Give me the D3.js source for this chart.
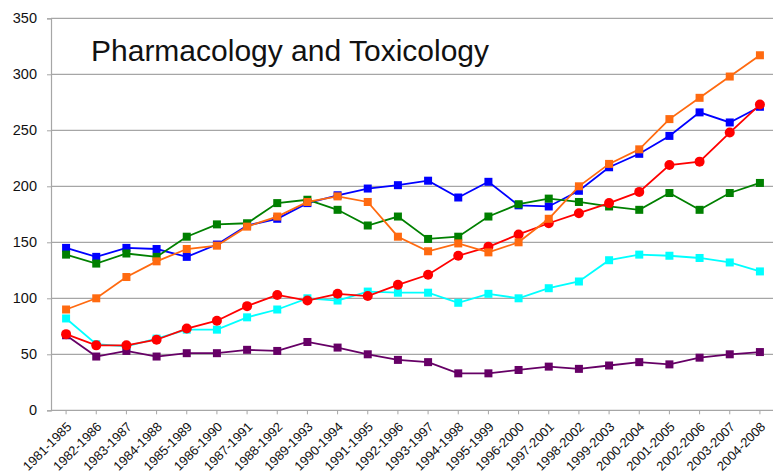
<!DOCTYPE html>
<html>
<head>
<meta charset="utf-8">
<script src="https://cdn.jsdelivr.net/npm/d3@7"></script>
<style>
  body { margin: 0; background: #fff; }
  svg { display: block; }
  text { font-family: 'Liberation Sans', Arial, sans-serif; fill: #111; }
</style>
</head>
<body>
<svg id="chart" width="774" height="475"></svg>
<script>
let periods = ['1981-1985', '1982-1986', '1983-1987', '1984-1988', '1985-1989', '1986-1990',
  '1987-1991', '1988-1992', '1989-1993', '1990-1994', '1991-1995', '1992-1996',
  '1993-1997', '1994-1998', '1995-1999', '1996-2000', '1997-2001', '1998-2002',
  '1999-2003', '2000-2004', '2001-2005', '2002-2006', '2003-2007', '2004-2008'];

let yTicks = [0, 50, 100, 150, 200, 250, 300, 350];

let blueVals   = [145, 137, 145, 144, 137, 148, 165, 171, 185, 192, 198, 201, 205, 190, 204, 183, 182, 196, 217, 229, 245, 266, 257, 271];
let orangeVals = [90, 100, 119, 133, 144, 147, 164, 173, 186, 191, 186, 155, 142, 149, 141, 150, 171, 200, 220, 233, 260, 279, 298, 317];
let greenVals  = [139, 131, 140, 137, 155, 166, 167, 185, 188, 179, 165, 173, 153, 155, 173, 184, 189, 186, 182, 179, 194, 179, 194, 203];
let redVals    = [68, 58, 58, 63, 73, 80, 93, 103, 98, 104, 102, 112, 121, 138, 146, 157, 167, 176, 185, 195, 219, 222, 248, 273];
let cyanVals   = [82, 59, 57, 64, 72, 72, 83, 90, 100, 98, 106, 105, 105, 96, 104, 100, 109, 115, 134, 139, 138, 136, 132, 124];
let purpleVals = [67, 48, 53, 48, 51, 51, 54, 53, 61, 56, 50, 45, 43, 33, 33, 36, 39, 37, 40, 43, 41, 47, 50, 52];

let series = [
  { color: '#0000ff', shape: 'square', values: blueVals },
  { color: '#008000', shape: 'square', values: greenVals },
  { color: '#00ffff', shape: 'square', values: cyanVals },
  { color: '#660066', shape: 'square', values: purpleVals },
  { color: '#ff0000', shape: 'circle', values: redVals },
  { color: '#ff6a10', shape: 'square', values: orangeVals }
];

let svg = d3.select('#chart'),
    plotLeft = 51, plotRight = 775, plotTop = 18.3, plotBottom = 410.3;

let x = d3.scaleBand()
  .domain(periods)
  .range([plotLeft, plotRight]);

let y = d3.scaleLinear()
  .domain([0, 350])
  .range([plotBottom, plotTop]);

// gridlines
svg.append('g')
  .selectAll('line')
  .data(yTicks.filter(d => d > 0))
  .enter().append('line')
    .attr('x1', plotLeft)
    .attr('x2', 773)
    .attr('y1', d => y(d))
    .attr('y2', d => y(d))
    .attr('stroke', '#a6a6a6')
    .attr('stroke-width', 1.2);

// y axis
let yAxis = svg.append('g')
  .attr('transform', `translate(${plotLeft},0)`)
  .call(d3.axisLeft(y).tickValues(yTicks).tickSize(4).tickPadding(10));
yAxis.select('.domain').attr('stroke', '#a6a6a6').attr('stroke-width', 1.2);
yAxis.selectAll('.tick line').attr('stroke', '#a6a6a6');
yAxis.selectAll('.tick text')
  .style('font-size', '14.5px')
  .style('font-family', "'Liberation Sans', Arial, sans-serif")
  .attr('fill', '#111');

// x axis
let xAxis = svg.append('g')
  .attr('transform', `translate(0,${plotBottom})`)
  .call(d3.axisBottom(x).tickSizeInner(4).tickSizeOuter(0));
xAxis.select('.domain').attr('stroke', '#a6a6a6').attr('stroke-width', 1.2).attr('d', `M${plotLeft},0H773`);
xAxis.selectAll('.tick line').attr('stroke', '#a6a6a6');
xAxis.selectAll('.tick text')
  .style('font-size', '13px')
  .style('font-family', "'Liberation Sans', Arial, sans-serif")
  .attr('fill', '#111')
  .attr('text-anchor', 'end')
  .attr('x', 0)
  .attr('y', 0)
  .attr('dy', '0.35em')
  .attr('transform', 'translate(3,14) rotate(-45)');

// lines and markers
let line = d3.line()
  .x((d, i) => x(periods[i]) + x.bandwidth() / 2)
  .y(d => y(d));

let groups = svg.append('g').selectAll('g')
  .data(series)
  .enter().append('g');

groups.append('path')
  .attr('d', d => line(d.values))
  .attr('fill', 'none')
  .attr('stroke', d => d.color)
  .attr('stroke-width', 1.8);

groups.each(function(s) {
  let g = d3.select(this);
  if (s.shape === 'circle') {
    g.selectAll('circle')
      .data(s.values)
      .enter().append('circle')
        .attr('cx', (d, i) => x(periods[i]) + x.bandwidth() / 2)
        .attr('cy', d => y(d))
        .attr('r', 5)
        .attr('fill', s.color);
  } else {
    g.selectAll('rect')
      .data(s.values)
      .enter().append('rect')
        .attr('x', (d, i) => x(periods[i]) + x.bandwidth() / 2 - 4)
        .attr('y', d => y(d) - 4)
        .attr('width', 8)
        .attr('height', 8)
        .attr('fill', s.color);
  }
});

svg.append('text')
  .text('Pharmacology and Toxicology')
  .attr('x', 91)
  .attr('y', 61)
  .style('font-size', '30px');
</script>
</body>
</html>
